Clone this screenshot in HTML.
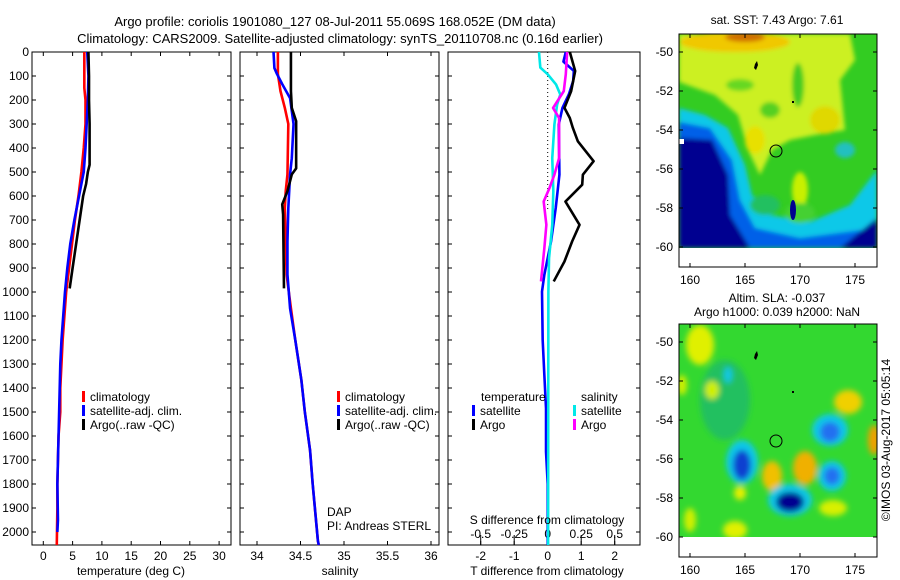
<!DOCTYPE html>
<html><head><meta charset="utf-8">
<style>
html,body{margin:0;padding:0;background:#fff;}
svg{display:block;font-family:"Liberation Sans",sans-serif;}
text{font-size:12px;fill:#000;}
</style></head>
<body>
<svg id="fig" width="900" height="580" viewBox="0 0 900 580">
<rect width="900" height="580" fill="#fff"/>
<text x="335" y="26" text-anchor="middle" style="font-size:13px">Argo profile: coriolis 1901080_127 08-Jul-2011 55.069S 168.052E (DM data)</text>
<text x="340" y="43" text-anchor="middle" style="font-size:13px">Climatology: CARS2009. Satellite-adjusted climatology: synTS_20110708.nc (0.16d earlier)</text>

<g id="p1"></g>
<g id="p2"></g>
<g id="p3"></g>

<!-- SST map -->
<g>
<defs>
<clipPath id="c1"><rect x="679" y="34" width="198" height="214"/></clipPath>
<clipPath id="c2"><rect x="679" y="324" width="198" height="213"/></clipPath>
<filter id="bl"><feGaussianBlur stdDeviation="2"/></filter>
<filter id="bl2"><feGaussianBlur stdDeviation="3"/></filter>
</defs>
<text x="777" y="24" text-anchor="middle">sat. SST: 7.43 Argo: 7.61</text>
<g clip-path="url(#c1)">
<rect x="679" y="34" width="198" height="214" fill="#33cc22"/>
<g filter="url(#bl)">
<polygon points="679,34 850,34 855,60 840,80 845,130 815,135 790,140 772,150 760,175 748,150 738,115 715,95 679,82" fill="#ccf020"/>
<ellipse cx="825" cy="120" rx="15" ry="14" fill="#e0d800"/>
<ellipse cx="798" cy="85" rx="6" ry="22" fill="#44cc22"/>
<ellipse cx="770" cy="110" rx="10" ry="8" fill="#55d022"/>
<ellipse cx="740" cy="85" rx="14" ry="6" fill="#66d820"/>
<ellipse cx="735" cy="42" rx="55" ry="10" fill="#f0c800"/>
<ellipse cx="745" cy="37" rx="20" ry="5" fill="#d07000"/>
<ellipse cx="755" cy="140" rx="10" ry="14" fill="#e8e000"/>
<ellipse cx="800" cy="190" rx="8" ry="18" fill="#c8f000"/>
<polygon points="679,108 705,115 728,128 745,165 752,195 770,215 810,222 850,205 877,170 877,248 679,248" fill="#10c8e8"/>
<polygon points="679,122 710,128 732,160 740,200 755,228 800,238 877,228 877,248 679,248" fill="#0060e8"/>
<polygon points="679,138 712,140 728,175 730,215 750,248 679,248" fill="#000090"/>
<polygon points="840,248 877,218 877,248" fill="#000090"/>
<ellipse cx="765" cy="205" rx="15" ry="10" fill="#22c060"/>
<ellipse cx="800" cy="213" rx="15" ry="10" fill="#44d030"/>
<ellipse cx="845" cy="150" rx="10" ry="8" fill="#20c0c0"/>
</g>
<ellipse cx="793" cy="210" rx="3" ry="10" fill="#000090"/>
<rect x="679" y="139" width="5" height="5" fill="#fff"/>
</g>
<rect x="679" y="34" width="198" height="233" fill="none" stroke="#000"/>
<circle cx="776" cy="151" r="6" fill="none" stroke="#000"/>
<path d="M755,64 l2,-3 l1,4 l-2,5 l-2,-2z M792,101 l2,0 l0,2 l-2,0z" fill="#000"/>
</g>

<g>
<text x="777" y="302" text-anchor="middle">Altim. SLA: -0.037</text>
<text x="777" y="316" text-anchor="middle">Argo h1000: 0.039 h2000: NaN</text>
<g clip-path="url(#c2)">
<rect x="679" y="324" width="198" height="213" fill="#33d830"/>
<g filter="url(#bl2)">
<ellipse cx="725" cy="400" rx="25" ry="40" fill="#22c060"/>
<ellipse cx="700" cy="345" rx="14" ry="20" fill="#e0f000"/>
<ellipse cx="712" cy="390" rx="7" ry="9" fill="#d0f000"/>
<ellipse cx="682" cy="385" rx="5" ry="10" fill="#d0f000"/>
<ellipse cx="728" cy="375" rx="4" ry="8" fill="#10c8e8"/>
<ellipse cx="848" cy="402" rx="14" ry="12" fill="#f0d000"/>
<ellipse cx="874" cy="440" rx="6" ry="15" fill="#f0a000"/>
<ellipse cx="830" cy="430" rx="18" ry="16" fill="#10c8e8"/>
<ellipse cx="830" cy="432" rx="10" ry="10" fill="#2070f0"/>
<ellipse cx="832" cy="476" rx="14" ry="15" fill="#10c8e8"/>
<ellipse cx="832" cy="476" rx="8" ry="9" fill="#2070f0"/>
<ellipse cx="742" cy="462" rx="16" ry="22" fill="#10c8e8"/>
<ellipse cx="742" cy="465" rx="9" ry="15" fill="#1040d0"/>
<ellipse cx="772" cy="476" rx="10" ry="15" fill="#f0c000"/>
<ellipse cx="805" cy="468" rx="12" ry="17" fill="#f0b000"/>
<ellipse cx="790" cy="500" rx="22" ry="16" fill="#10c8e8"/>
<ellipse cx="790" cy="502" rx="14" ry="10" fill="#000090"/>
<ellipse cx="740" cy="493" rx="6" ry="7" fill="#e8f000"/>
<ellipse cx="735" cy="530" rx="12" ry="9" fill="#e0f000"/>
<ellipse cx="833" cy="508" rx="14" ry="8" fill="#d8f000"/>
<ellipse cx="690" cy="520" rx="6" ry="12" fill="#d0f000"/>
</g>
</g>
<rect x="679" y="324" width="198" height="233" fill="none" stroke="#000"/>
<circle cx="776" cy="441" r="6" fill="none" stroke="#000"/>
<path d="M755,354 l2,-3 l1,4 l-2,5 l-2,-2z M792,391 l2,0 l0,2 l-2,0z" fill="#000"/>
<text transform="translate(890,440) rotate(-90)" text-anchor="middle">©IMOS 03-Aug-2017 05:05:14</text>
</g>

<text x="327" y="516">DAP</text>
<text x="327" y="530">PI: Andreas STERL</text>
<text x="547" y="524" text-anchor="middle">S difference from climatology</text>
</svg>
<script>
// ---- data ----
const depthTicks=[0,100,200,300,400,500,600,700,800,900,1000,1100,1200,1300,1400,1500,1600,1700,1800,1900,2000];
const tTicks=[0,5,10,15,20,25,30];
const sTicks=[34,34.5,35,35.5,36];
const dTTicks=[-2,-1,0,1,2];
const dSTicks=[-0.5,-0.25,0,0.25,0.5];
const latTicks=[-50,-52,-54,-56,-58,-60];
const lonTicks=[160,165,170,175];

const tClimDepth=[0,150,200,300,400,500,600,700,800,900,1000,1100,1200,1300,1400,1500,1600,1700,1800,1900,2054];
const tClim=[7.0,7.0,7.2,7.2,6.9,6.5,6.0,5.4,4.9,4.4,3.9,3.6,3.3,3.1,2.9,2.9,2.6,2.5,2.4,2.4,2.3];
const tSatDepth=[0,100,200,300,400,500,600,700,800,900,1000,1100,1200,1300,1400,1500,1600,1700,1800,1950,2000];
const tSat=[7.5,7.7,7.6,7.4,7.2,6.9,6.1,5.3,4.6,4.1,3.7,3.4,3.1,2.9,2.8,2.7,2.6,2.5,2.4,2.5,2.4];
const tArgoDepth=[0,100,200,300,400,470,500,550,600,700,800,900,985];
const tArgo=[7.7,7.8,7.8,7.9,7.9,7.9,7.6,7.3,6.8,6.2,5.6,5.0,4.5];

const sClimDepth=[0,92,163,233,300,510,580,650,790,927,1068,1200,1367,1500,1660,1800,2037,2054];
const sClim=[34.24,34.24,34.27,34.32,34.36,34.35,34.33,34.32,34.33,34.34,34.39,34.44,34.51,34.55,34.61,34.64,34.70,34.71];
const sSatDepth=[0,67,92,134,192,300,442,510,650,790,927,1068,1200,1367,1500,1660,1800,2037,2054];
const sSat=[34.19,34.20,34.23,34.29,34.38,34.42,34.40,34.38,34.36,34.35,34.35,34.38,34.44,34.51,34.55,34.61,34.64,34.70,34.71];
const sArgoDepth=[0,163,233,288,485,510,580,635,677,985];
const sArgo=[34.39,34.39,34.40,34.45,34.45,34.40,34.35,34.29,34.30,34.31];

const dTSatDepth=[0,40,79,121,177,233,302,511,650,789,928,998,1200,1346,1485,1666,1800,2054];
const dTSat=[0.54,0.47,0.78,0.76,0.63,0.44,0.33,0.35,0.24,0.10,-0.10,-0.17,-0.15,-0.10,-0.05,-0.05,0,0];
const dTArgoDepth=[0,79,163,233,275,316,372,455,511,553,623,720,789,873,956];
const dTArgo=[0.66,0.82,0.70,0.50,0.66,0.75,0.90,1.37,1.05,1.03,0.53,0.95,0.73,0.50,0.18];
const dSSatDepth=[0,65,93,135,177,220,302,442,581,720,859,1000,2054];
const dSSat=[-0.065,-0.055,0,0.062,0.094,0.07,0.05,0.034,0.042,0.034,0.01,0.005,0.003];
const dSArgoDepth=[0,93,163,233,275,442,511,567,623,720,817,956];
const dSArgo=[0.145,0.135,0.12,0.04,0.085,0.085,0.05,0.013,-0.03,-0.01,-0.025,-0.05];

// ---- helpers ----
const NS='http://www.w3.org/2000/svg';
function mk(tag,attrs,parent){const e=document.createElementNS(NS,tag);for(const k in attrs)e.setAttribute(k,attrs[k]);parent.appendChild(e);return e;}
const Y0=52, YS=0.24, YB=545;
const yD=d=>Y0+d*YS;
const xT=t=>43.3+t*5.86;
const xS=s=>257+(s-34)*87;
const xDT=v=>547.7+v*33.5;
const xDS=v=>547.7+v*134;

function frame(g,x0,x1,withDepthLabels){
  mk('rect',{x:x0,y:Y0,width:x1-x0,height:YB-Y0,fill:'none',stroke:'#000'},g);
  depthTicks.forEach(d=>{
    const y=yD(d);
    mk('line',{x1:x0,x2:x0+4,y1:y,y2:y,stroke:'#000'},g);
    mk('line',{x1:x1,x2:x1-4,y1:y,y2:y,stroke:'#000'},g);
    if(withDepthLabels){
      const t=mk('text',{x:x0-3,y:y+4,'text-anchor':'end'},g);t.textContent=d;
      
      
    }
  });
}
function xticks(g,ticks,fx,labelY,top){
  ticks.forEach(v=>{
    const x=fx(v);
    mk('line',{x1:x,x2:x,y1:YB,y2:YB-4,stroke:'#000'},g);
    if(top) mk('line',{x1:x,x2:x,y1:Y0,y2:Y0+4,stroke:'#000'},g);
    const t=mk('text',{x:x,y:labelY,'text-anchor':'middle'},g);t.textContent=v;
    
    
  });
}
function line(g,depths,vals,fx,color,name){
  const pts=depths.map((d,i)=>fx(vals[i])+','+yD(d));
  const p=mk('polyline',{points:pts.join(' '),fill:'none',stroke:color,'stroke-width':2.6,'stroke-linejoin':'round'},g);
  
  
}
function legend(g,x,y,items){
  items.forEach((it,i)=>{
    if(it[1]) mk('rect',{x:x,y:y+i*14-6,width:3,height:11,fill:it[1]},g);
    const t=mk('text',{x:x+(it[1]?8:0),y:y+i*14+4},g);t.textContent=it[0];
    
    
  });
}

// panel 1
const g1=document.getElementById('p1');
frame(g1,32,231,true);
xticks(g1,tTicks,xT,560,true);
line(g1,tClimDepth,tClim,xT,'#f00','temperature-climatology-line');
line(g1,tSatDepth,tSat,xT,'#00f','temperature-satellite-line');
line(g1,tArgoDepth,tArgo,xT,'#000','temperature-argo-line');
legend(g1,82,397,[['climatology','#f00'],['satellite-adj. clim.','#00f'],['Argo(..raw -QC)','#000']]);
let tt=mk('text',{x:131,y:575,'text-anchor':'middle'},g1);tt.textContent='temperature (deg C)';



// panel 2
const g2=document.getElementById('p2');
frame(g2,240,439,false);
xticks(g2,sTicks,xS,560,true);
line(g2,sClimDepth,sClim,xS,'#f00','salinity-climatology-line');
line(g2,sSatDepth,sSat,xS,'#00f','salinity-satellite-line');
line(g2,sArgoDepth,sArgo,xS,'#000','salinity-argo-line');
legend(g2,337,397,[['climatology','#f00'],['satellite-adj. clim.','#00f'],['Argo(..raw -QC)','#000']]);
tt=mk('text',{x:340,y:575,'text-anchor':'middle'},g2);tt.textContent='salinity';



// panel 3
const g3=document.getElementById('p3');
frame(g3,448,640,false);
xticks(g3,dTTicks,xDT,560,false);
dSTicks.forEach(v=>{
  const x=xDS(v);
  mk('line',{x1:x,x2:x,y1:YB,y2:YB-10,stroke:'#000'},g3);
  const t=mk('text',{x:x,y:538,'text-anchor':'middle'},g3);t.textContent=v;
  
  
});
mk('line',{x1:547.7,x2:547.7,y1:Y0,y2:210,stroke:'#000','stroke-dasharray':'1,3'},g3);
line(g3,dTSatDepth,dTSat,xDT,'#00f','t-diff-satellite-line');
line(g3,dTArgoDepth,dTArgo,xDT,'#000','t-diff-argo-line');
line(g3,dSSatDepth,dSSat,xDS,'#00e8e8','s-diff-satellite-line');
line(g3,dSArgoDepth,dSArgo,xDS,'#f0f','s-diff-argo-line');
legend(g3,481,397,[['temperature',null]]);
legend(g3,472,411,[['satellite','#00f'],['Argo','#000']]);
legend(g3,581,397,[['salinity',null]]);
legend(g3,573,411,[['satellite','#00e8e8'],['Argo','#f0f']]);
tt=mk('text',{x:547,y:575,'text-anchor':'middle'},g3);tt.textContent='T difference from climatology';



// map axes
const fig=document.getElementById('fig');
[[52,34,267,280],[342,324,557,570]].forEach(m=>{
  const [lat50,top,bot,ly]=m;
  latTicks.forEach(la=>{
    const y=lat50+(-50-la)*19.5;
    mk('line',{x1:679,x2:683,y1:y,y2:y,stroke:'#000'},fig);
    mk('line',{x1:877,x2:873,y1:y,y2:y,stroke:'#000'},fig);
    const t=mk('text',{x:673,y:y+4,'text-anchor':'end'},fig);t.textContent=la;
    
    
  });
  lonTicks.forEach(lo=>{
    const x=690+(lo-160)*11;
    mk('line',{x1:x,x2:x,y1:bot,y2:bot-4,stroke:'#000'},fig);
    mk('line',{x1:x,x2:x,y1:top,y2:top+4,stroke:'#000'},fig);
    const t=mk('text',{x:x,y:ly+4,'text-anchor':'middle'},fig);t.textContent=lo;
    
    
  });
});
</script>
</body></html>
